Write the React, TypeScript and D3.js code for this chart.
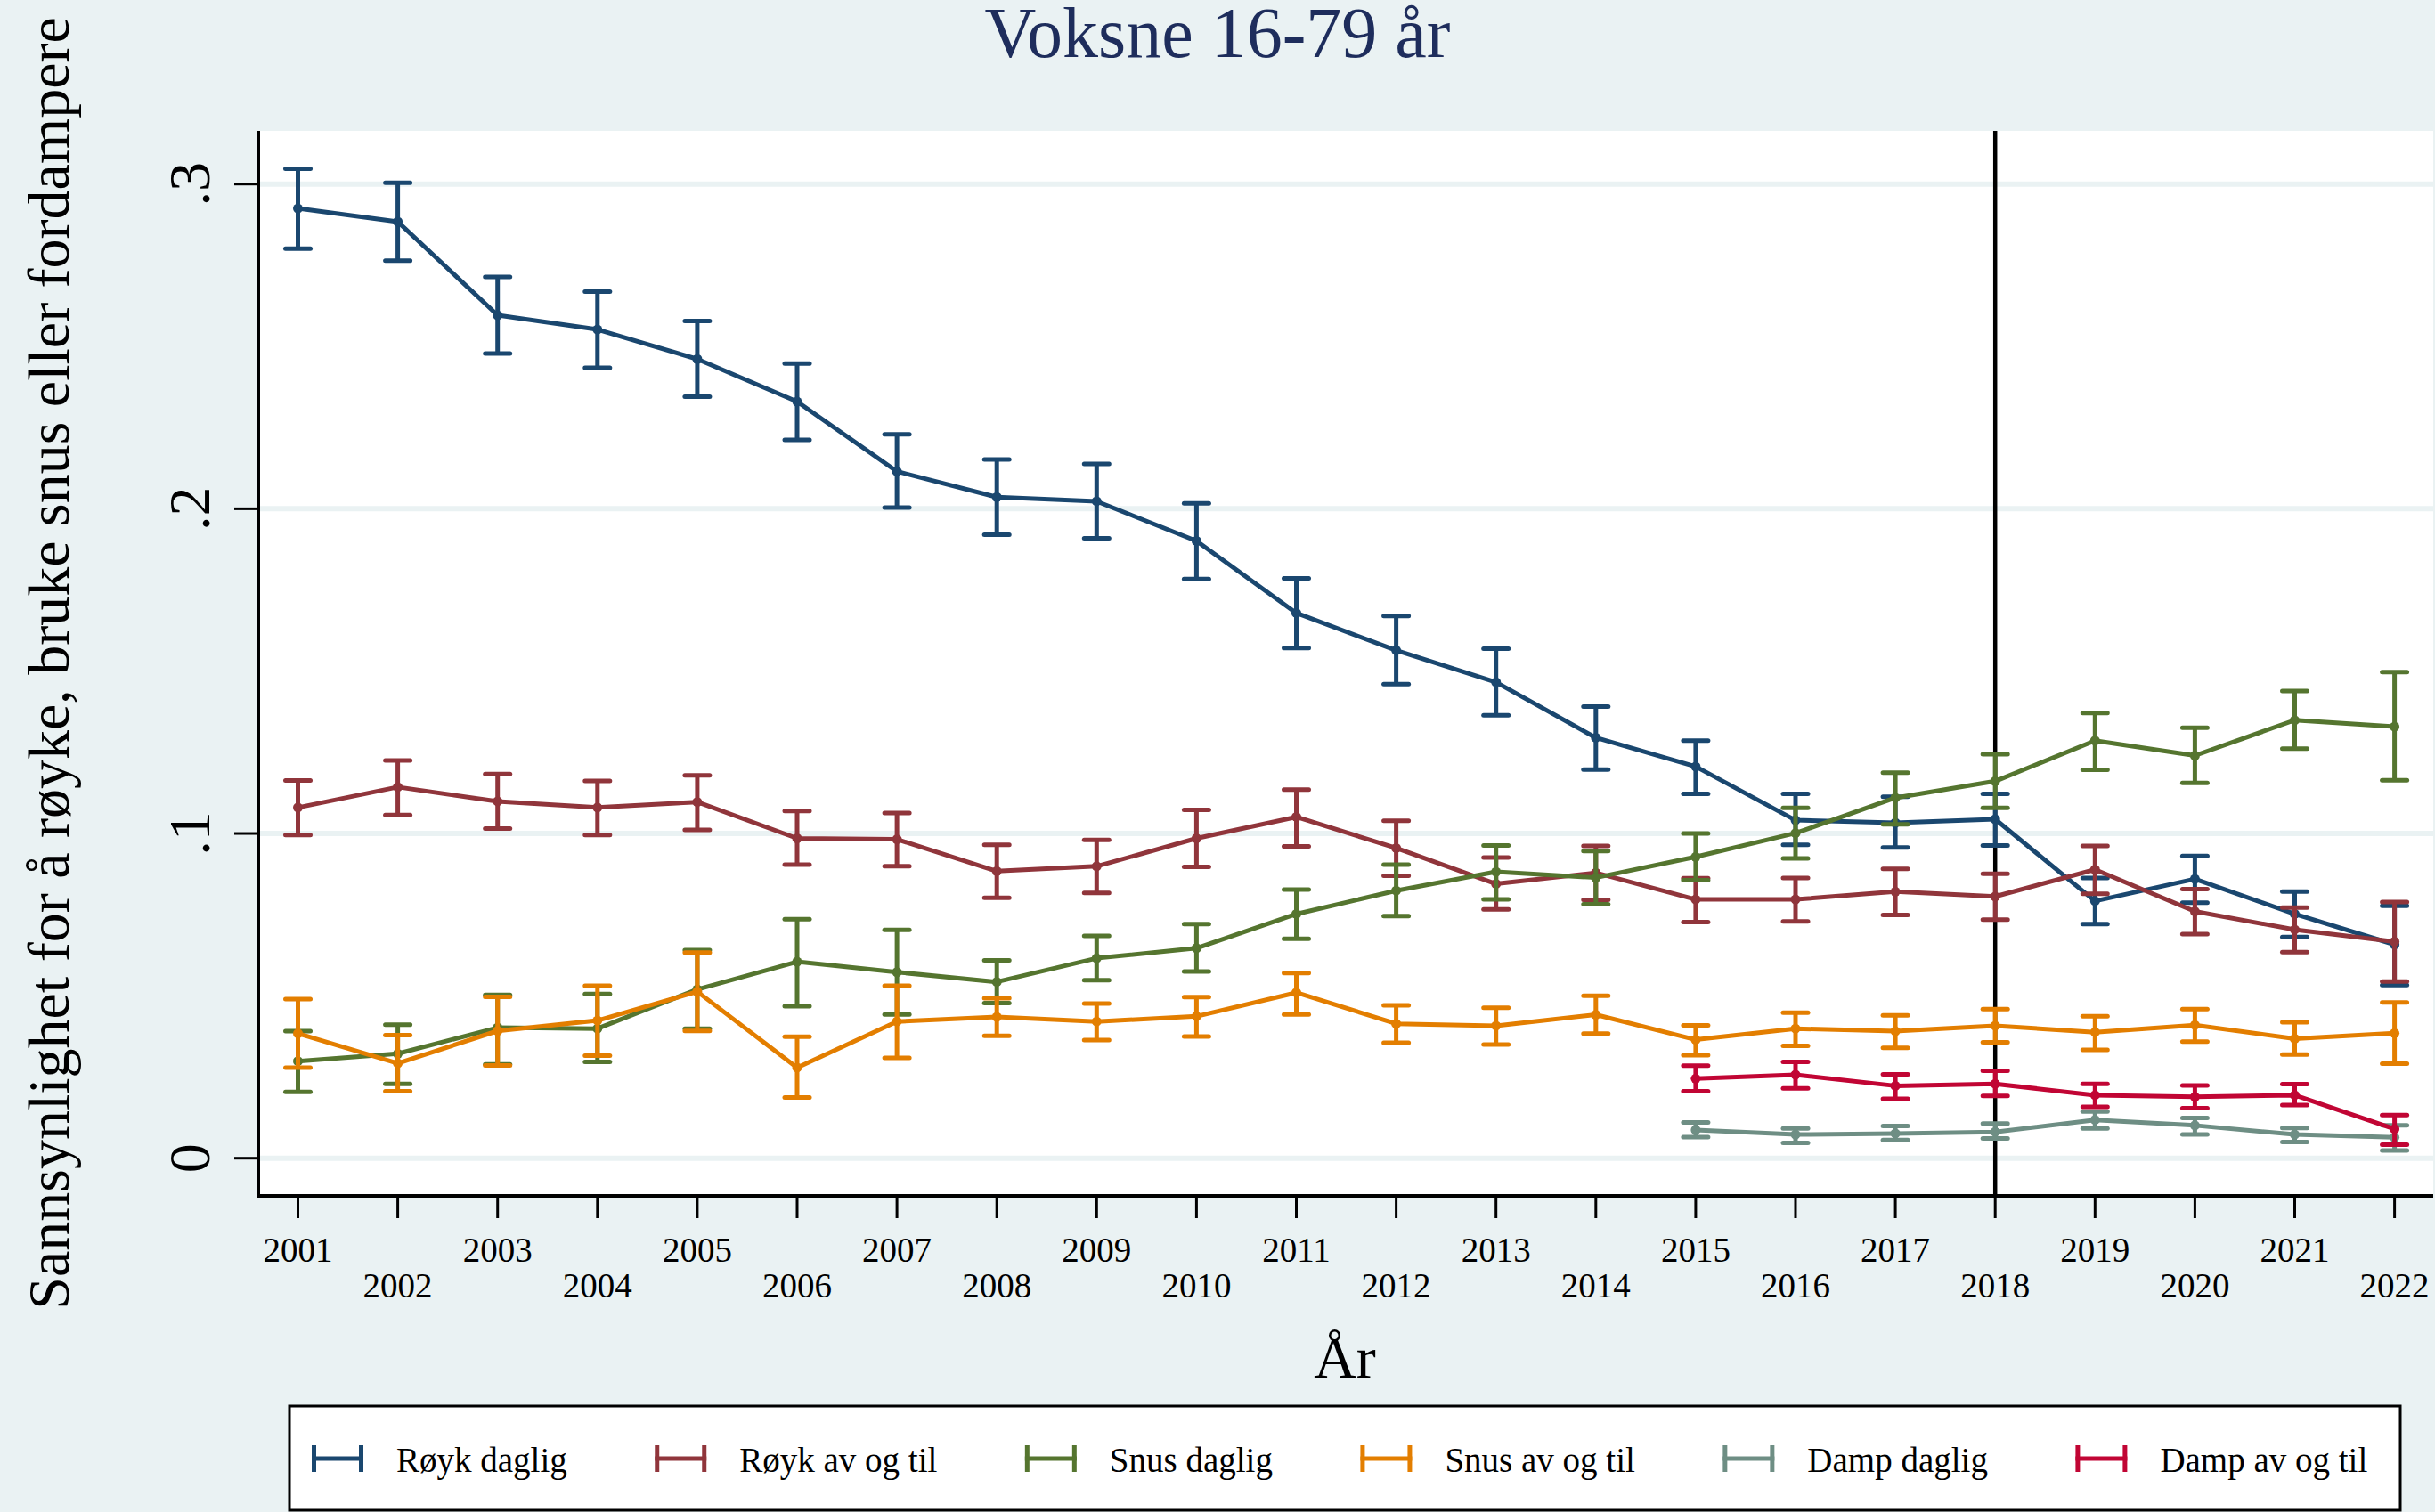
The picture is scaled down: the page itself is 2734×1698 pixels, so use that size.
import React from "react";
import * as d3 from "d3";

const years = [2001, 2002, 2003, 2004, 2005, 2006, 2007, 2008, 2009, 2010, 2011, 2012, 2013, 2014, 2015, 2016, 2017, 2018, 2019, 2020, 2021, 2022];
const dampYears = [2015, 2016, 2017, 2018, 2019, 2020, 2021, 2022];

const roykDagligEst = [0.2925, 0.2884, 0.2596, 0.2552, 0.2461, 0.2330, 0.2115, 0.2036, 0.2023, 0.1901, 0.1679, 0.1564, 0.1466, 0.1295, 0.1206, 0.1041, 0.1033, 0.1044, 0.0792, 0.0860, 0.0752, 0.0658];
const roykDagligLo = [0.2801, 0.2764, 0.2478, 0.2434, 0.2345, 0.2212, 0.2004, 0.1920, 0.1909, 0.1784, 0.1571, 0.1460, 0.1364, 0.1197, 0.1122, 0.0965, 0.0957, 0.0963, 0.0721, 0.0787, 0.0681, 0.0533];
const roykDagligHi = [0.3047, 0.3004, 0.2714, 0.2669, 0.2578, 0.2447, 0.2229, 0.2152, 0.2138, 0.2017, 0.1786, 0.1670, 0.1569, 0.1391, 0.1286, 0.1122, 0.1113, 0.1122, 0.0863, 0.0931, 0.0821, 0.0777];

const roykAvEst = [0.1080, 0.1143, 0.1099, 0.1080, 0.1097, 0.0985, 0.0982, 0.0884, 0.0899, 0.0985, 0.1051, 0.0955, 0.0845, 0.0879, 0.0797, 0.0797, 0.0821, 0.0806, 0.0889, 0.0760, 0.0704, 0.0667];
const roykAvLo = [0.0995, 0.1057, 0.1015, 0.0995, 0.1011, 0.0904, 0.0899, 0.0802, 0.0817, 0.0897, 0.0960, 0.0870, 0.0766, 0.0796, 0.0727, 0.0729, 0.0749, 0.0735, 0.0814, 0.0690, 0.0635, 0.0544];
const roykAvHi = [0.1163, 0.1225, 0.1183, 0.1162, 0.1179, 0.1069, 0.1063, 0.0965, 0.0980, 0.1073, 0.1135, 0.1039, 0.0926, 0.0962, 0.0862, 0.0863, 0.0891, 0.0876, 0.0962, 0.0829, 0.0772, 0.0789];

const snusDagligEst = [0.0299, 0.0322, 0.0402, 0.0399, 0.0520, 0.0605, 0.0573, 0.0543, 0.0616, 0.0647, 0.0752, 0.0824, 0.0882, 0.0864, 0.0928, 0.1001, 0.1110, 0.1161, 0.1286, 0.1240, 0.1349, 0.1329];
const snusDagligLo = [0.0204, 0.0229, 0.0289, 0.0297, 0.0399, 0.0468, 0.0443, 0.0478, 0.0548, 0.0575, 0.0676, 0.0746, 0.0797, 0.0782, 0.0856, 0.0923, 0.1028, 0.1079, 0.1196, 0.1156, 0.1261, 0.1164];
const snusDagligHi = [0.0391, 0.0411, 0.0503, 0.0506, 0.0641, 0.0736, 0.0703, 0.0609, 0.0685, 0.0721, 0.0827, 0.0904, 0.0963, 0.0946, 0.1000, 0.1079, 0.1187, 0.1244, 0.1371, 0.1326, 0.1439, 0.1497];

const snusAvEst = [0.0384, 0.0292, 0.0392, 0.0424, 0.0513, 0.0279, 0.0421, 0.0435, 0.0421, 0.0437, 0.0510, 0.0414, 0.0408, 0.0442, 0.0365, 0.0399, 0.0391, 0.0408, 0.0388, 0.0410, 0.0368, 0.0385];
const snusAvLo = [0.0279, 0.0206, 0.0286, 0.0316, 0.0392, 0.0187, 0.0309, 0.0377, 0.0364, 0.0375, 0.0443, 0.0356, 0.0350, 0.0384, 0.0317, 0.0346, 0.0340, 0.0357, 0.0334, 0.0359, 0.0319, 0.0291];
const snusAvHi = [0.0490, 0.0379, 0.0497, 0.0531, 0.0633, 0.0374, 0.0531, 0.0493, 0.0476, 0.0496, 0.0570, 0.0471, 0.0463, 0.0500, 0.0409, 0.0448, 0.0440, 0.0459, 0.0437, 0.0459, 0.0419, 0.0480];

const dampDagligEst = [0.0087, 0.0073, 0.0076, 0.0081, 0.0118, 0.0101, 0.0073, 0.0064];
const dampDagligLo = [0.0065, 0.0047, 0.0056, 0.0061, 0.0092, 0.0073, 0.0050, 0.0024];
const dampDagligHi = [0.0110, 0.0092, 0.0099, 0.0107, 0.0144, 0.0124, 0.0093, 0.0101];

const dampAvEst = [0.0245, 0.0257, 0.0223, 0.0229, 0.0194, 0.0189, 0.0194, 0.0090];
const dampAvLo = [0.0206, 0.0215, 0.0183, 0.0192, 0.0158, 0.0154, 0.0164, 0.0042];
const dampAvHi = [0.0285, 0.0297, 0.0258, 0.0269, 0.0229, 0.0224, 0.0228, 0.0133];

const seriesNames = ["Røyk daglig", "Røyk av og til", "Snus daglig", "Snus av og til", "Damp daglig", "Damp av og til"];
const seriesColors = ["#1a476f", "#90353b", "#55752f", "#e37e00", "#6e8e84", "#c10534"];

const yTicks = [0, 0.1, 0.2, 0.3];
const yTickLabels = ["0", ".1", ".2", ".3"];
const markerYear = 2018;

const title = "Voksne 16-79 år";
const yTitle = "Sannsynlighet for å røyke, bruke snus eller fordampere";
const xTitle = "År";

const FONT = "'Liberation Serif', 'Times New Roman', serif";
const W = 2734;
const H = 1698;
const BG = "#eaf2f3";

function measure(text: string, size: number): number {
  const c = document.createElement("canvas");
  const ctx = c.getContext("2d");
  if (!ctx) return text.length * size * 0.45;
  ctx.font = `${size}px 'Liberation Serif'`;
  return ctx.measureText(text).width;
}

export default function App() {
  const plotL = 288, plotR = 2732, plotT = 147, plotB = 1343;
  const x = d3.scaleLinear().domain([2001, 2022]).range([334.5, 2688.6]);
  const y = d3.scaleLinear().domain([0, 0.3]).range([1300.7, 206.7]);

  const series = [
    { yrs: years, est: roykDagligEst, lo: roykDagligLo, hi: roykDagligHi },
    { yrs: years, est: roykAvEst, lo: roykAvLo, hi: roykAvHi },
    { yrs: years, est: snusDagligEst, lo: snusDagligLo, hi: snusDagligHi },
    { yrs: years, est: snusAvEst, lo: snusAvLo, hi: snusAvHi },
    { yrs: dampYears, est: dampDagligEst, lo: dampDagligLo, hi: dampDagligHi },
    { yrs: dampYears, est: dampAvEst, lo: dampAvLo, hi: dampAvHi },
  ];

  const line = d3.line<[number, number]>().x((d) => x(d[0])).y((d) => y(d[1]));
  const capHalf = 14;
  const lw = 5;

  // legend layout
  const legFont = 39;
  const legEntries: { sx: number; tx: number }[] = [];
  let cur = 350;
  seriesNames.forEach((n) => {
    const tw = measure(n, legFont);
    legEntries.push({ sx: cur, tx: cur + 58 + 37 });
    cur = cur + 58 + 37 + tw + 98.5;
  });
  const legCY = 1638;

  return (
    <svg width={W} height={H} style={{ position: "absolute", left: 0, top: 0, background: BG }} fontFamily={FONT}>
      <rect x={0} y={0} width={W} height={H} fill={BG} />
      <text x={W / 2} y={64} fontSize={80} textAnchor="middle" fill="#1e2d5c">{title}</text>

      {/* plot region */}
      <rect x={plotL} y={plotT} width={plotR - plotL} height={plotB - plotT} fill="#ffffff" />
      {yTicks.map((t) => (
        <line key={"g" + t} x1={plotL} x2={plotR} y1={y(t)} y2={y(t)} stroke={BG} strokeWidth={6} />
      ))}

      {/* xline */}
      <line x1={x(markerYear)} x2={x(markerYear)} y1={plotT} y2={plotB} stroke="#000" strokeWidth={4.5} />

      {/* series */}
      {series.map((s, si) => {
        const col = seriesColors[si];
        const pts = s.yrs.map((yr, i) => [yr, s.est[i]] as [number, number]);
        return (
          <g key={"s" + si}>
            {s.yrs.map((yr, i) => (
              <g key={i} stroke={col} strokeWidth={lw} strokeLinecap="round">
                <line x1={x(yr)} x2={x(yr)} y1={y(s.lo[i])} y2={y(s.hi[i])} strokeLinecap="butt" />
                <line x1={x(yr) - capHalf} x2={x(yr) + capHalf} y1={y(s.lo[i])} y2={y(s.lo[i])} />
                <line x1={x(yr) - capHalf} x2={x(yr) + capHalf} y1={y(s.hi[i])} y2={y(s.hi[i])} />
              </g>
            ))}
            <path d={line(pts) || ""} fill="none" stroke={col} strokeWidth={lw} strokeLinejoin="round" />
            {pts.map((p, i) => (
              <circle key={"m" + i} cx={x(p[0])} cy={y(p[1])} r={5.5} fill={col} />
            ))}
          </g>
        );
      })}

      {/* axes */}
      <line x1={290} x2={290} y1={plotT} y2={plotB + 2} stroke="#000" strokeWidth={4} />
      <line x1={288} x2={plotR} y1={plotB} y2={plotB} stroke="#000" strokeWidth={4} />
      {yTicks.map((t, i) => (
        <g key={"yt" + t}>
          <line x1={263} x2={290} y1={y(t)} y2={y(t)} stroke="#000" strokeWidth={3} />
          <text transform={`translate(235,${y(t)}) rotate(-90)`} fontSize={66} textAnchor="middle" fill="#000">{yTickLabels[i]}</text>
        </g>
      ))}
      {years.map((yr, i) => (
        <g key={"xt" + yr}>
          <line x1={x(yr)} x2={x(yr)} y1={plotB} y2={plotB + 25} stroke="#000" strokeWidth={3} />
          <text x={x(yr)} y={i % 2 === 0 ? 1417 : 1457} fontSize={39} textAnchor="middle" fill="#000">{String(yr)}</text>
        </g>
      ))}

      <text x={(plotL + plotR) / 2} y={1547} fontSize={66} textAnchor="middle" fill="#000">{xTitle}</text>
      <text transform={`translate(77,${(plotT + plotB) / 2}) rotate(-90)`} fontSize={66} textAnchor="middle" fill="#000">{yTitle}</text>

      {/* legend */}
      <rect x={325} y={1579} width={2370} height={117} fill="#fff" stroke="#000" strokeWidth={3} />
      {seriesNames.map((n, i) => {
        const e = legEntries[i];
        const col = seriesColors[i];
        return (
          <g key={"l" + i}>
            <g stroke={col} strokeWidth={5}>
              <line x1={e.sx} x2={e.sx + 58} y1={legCY} y2={legCY} />
              <line x1={e.sx + 2.5} x2={e.sx + 2.5} y1={legCY - 15} y2={legCY + 15} />
              <line x1={e.sx + 55.5} x2={e.sx + 55.5} y1={legCY - 15} y2={legCY + 15} />
            </g>
            <text x={e.tx} y={1653} fontSize={legFont} fill="#000">{n}</text>
          </g>
        );
      })}
    </svg>
  );
}
